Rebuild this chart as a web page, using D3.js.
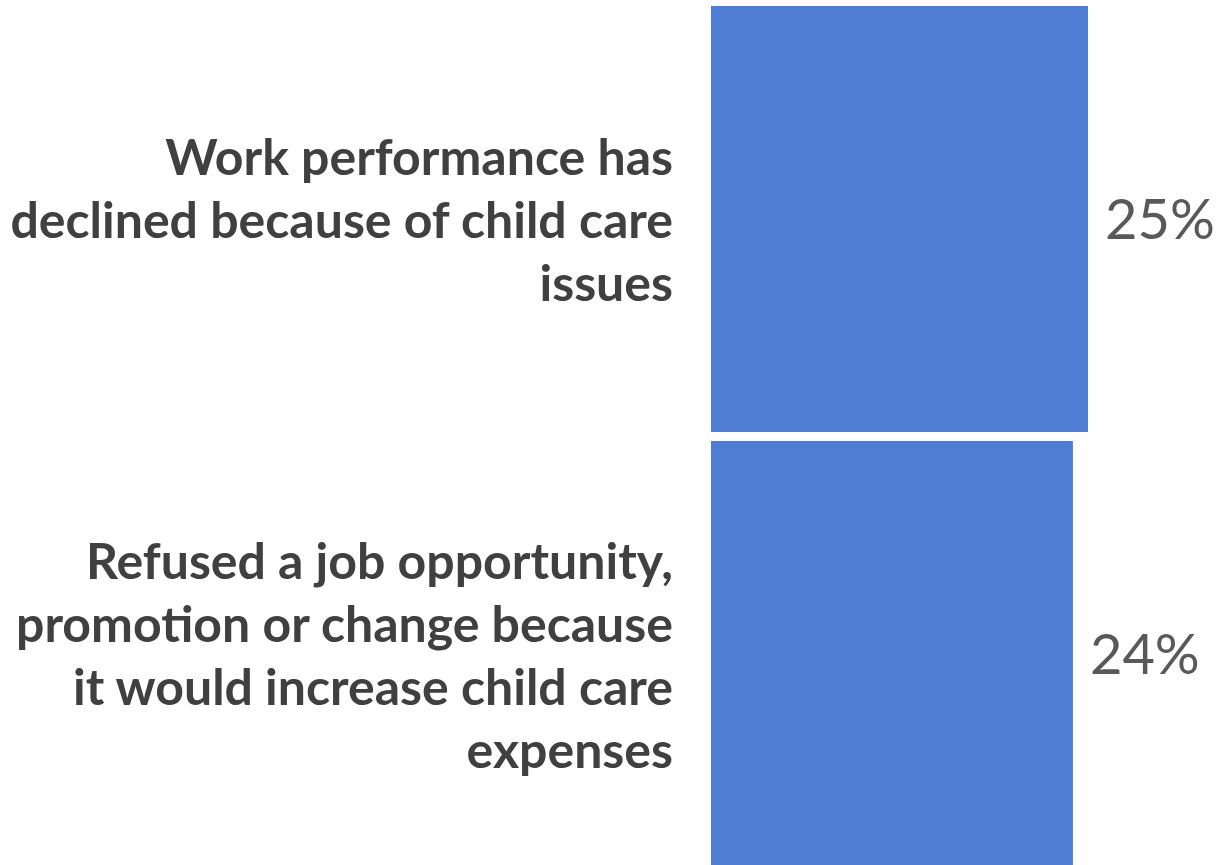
<!DOCTYPE html>
<html><head><meta charset="utf-8">
<script src="https://cdn.jsdelivr.net/npm/d3@7"></script>
<style>html,body{margin:0;padding:0;background:#fff;overflow:hidden}</style>
</head><body>
<svg id="chart" width="1218" height="865"></svg>
<script>
const categories = [
  "Work performance has declined because of child care issues",
  "Refused a job opportunity, promotion or change because it would increase child care expenses"
];
const labelLines = [
  ["Work performance has", "declined because of child care", "issues"],
  ["Refused a job opportunity,", "promotion or change because", "it would increase child care", "expenses"]
];
const values = [0.25, 0.24];

const svg = d3.select("#chart");
const x = d3.scaleLinear().domain([0, 0.25]).range([711, 1088]);
const y = d3.scaleBand().domain(categories).range([6, 867]).paddingInner(9/435).paddingOuter(0);

svg.selectAll("rect.bar").data(categories).join("rect")
  .attr("class","bar")
  .attr("x", x(0))
  .attr("y", d => y(d))
  .attr("width", (d,i) => x(values[i]) - x(0))
  .attr("height", y.bandwidth())
  .attr("fill", "#4E7DD3");

const fmt = d3.format(".0%");
svg.selectAll("text.val").data(categories).join("text")
  .attr("class","val")
  .attr("x", (d,i) => x(values[i]) + 17)
  .attr("y", d => y(d) + y.bandwidth()/2)
  .attr("dy", "0.36em")
  .attr("font-family", "Lato, 'Open Sans', sans-serif")
  .attr("font-size", 56)
  .attr("fill", "#595959")
  .text((d,i) => fmt(values[i]));

const lh = 63;
const g = svg.append("g");
categories.forEach((c, i) => {
  const lines = labelLines[i];
  const cy = y(c) + y.bandwidth()/2;
  const t = g.append("text")
    .attr("class","lab")
    .attr("text-anchor","end")
    .attr("font-family", "Lato, 'Open Sans', sans-serif")
    .attr("font-weight", "bold")
    .attr("font-size", 50)
    .attr("fill", "#404040");
  lines.forEach((ln, j) => {
    t.append("tspan")
      .attr("x", 673)
      .attr("y", cy + (j - (lines.length-1)/2) * lh)
      .attr("dy", "0.38em")
      .text(ln);
  });
});
</script>
</body></html>
